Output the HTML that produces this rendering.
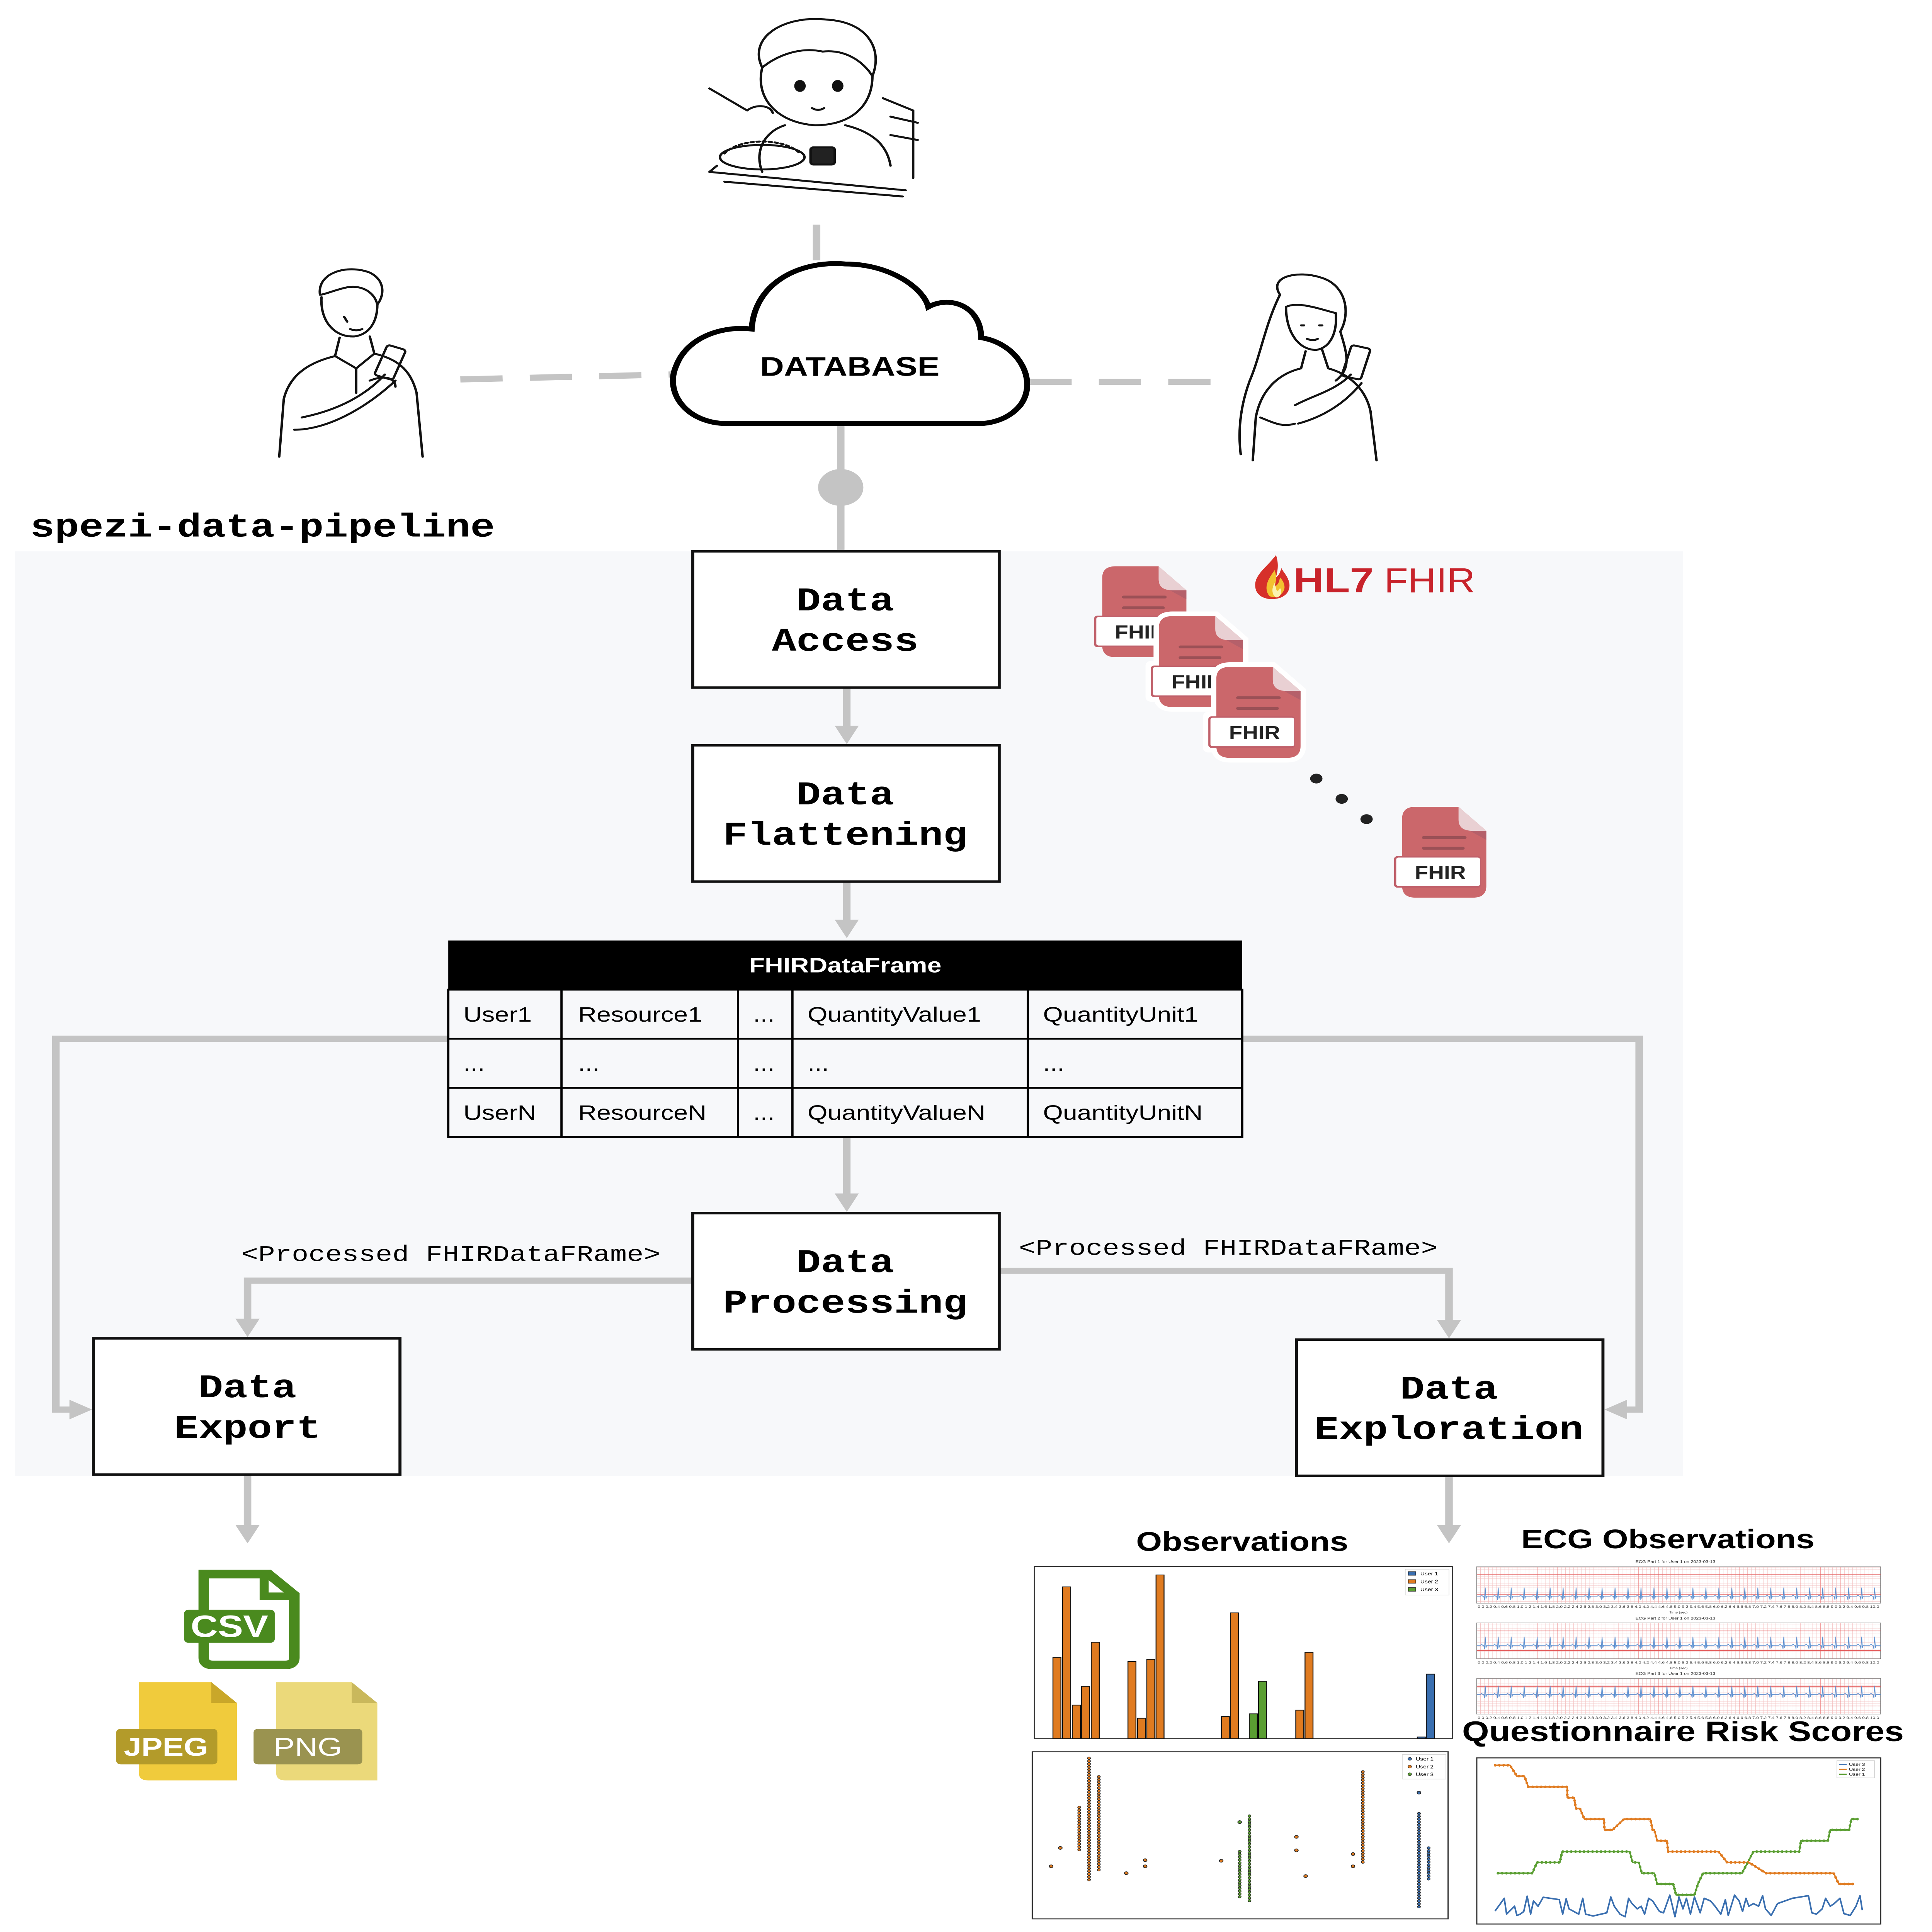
<!DOCTYPE html>
<html><head><meta charset="utf-8">
<style>
html,body{margin:0;padding:0;background:#fff;width:100%;height:100%;overflow:hidden;}
svg{display:block;width:100vw;height:100vh;position:absolute;left:0;top:0;}
.mono{font-family:"Liberation Mono",monospace;font-weight:bold;}
.sans{font-family:"Liberation Sans",sans-serif;}
</style></head>
<body>
<svg xmlns="http://www.w3.org/2000/svg" viewBox="0 0 1280 1573.5" preserveAspectRatio="none">
<defs>
  <pattern id="ecg" x="0" y="0" width="13.4" height="7.4" patternUnits="userSpaceOnUse">
    <rect width="13.4" height="7.4" fill="#fff"/>
    <path d="M2.68,0V7.4M5.36,0V7.4M8.04,0V7.4M10.72,0V7.4M0,1.85H13.4M0,3.7H13.4M0,5.55H13.4" stroke="#f4c2c2" stroke-width="0.25"/>
    <path d="M0,0V7.4" stroke="#e88" stroke-width="0.45"/>
  </pattern>
  <pattern id="beat" x="978.4" y="0" width="8.6" height="40" patternUnits="userSpaceOnUse">
    <path d="M0,20 L2.5,20 L3.2,19 L3.9,20 L4.6,20 L5.1,23 L5.6,13 L6.1,22 L6.6,20 L8.6,20" fill="none" stroke="#5b8fd0" stroke-width="0.45"/>
  </pattern>
</defs>

<rect width="1280" height="1573.5" fill="#fff"/>
<rect x="10" y="449" width="1105" height="753" fill="#f7f8fa"/>

<g stroke="#c4c4c4" stroke-width="5" fill="none">
  <line x1="541" y1="183" x2="541" y2="212"/>
  <line x1="305" y1="309" x2="445" y2="305" stroke-dasharray="28,18"/>
  <line x1="682" y1="311" x2="805" y2="311" stroke-dasharray="28,18"/>
  <line x1="557" y1="345" x2="557" y2="449"/>
  <line x1="561" y1="560" x2="561" y2="593"/>
  <line x1="561" y1="718" x2="561" y2="751"/>
  <line x1="561" y1="927" x2="561" y2="974"/>
  <polyline points="459,1043 164,1043 164,1076"/>
  <polyline points="662,1035 960,1035 960,1077"/>
  <polyline points="297,846 37,846 37,1148 48,1148"/>
  <polyline points="823,846 1086,846 1086,1148 1076,1148"/>
  <line x1="164" y1="1202" x2="164" y2="1244"/>
  <line x1="960" y1="1202" x2="960" y2="1244"/>
</g>
<g fill="#c4c4c4">
  <circle cx="557" cy="397" r="15"/>
  <polygon points="553,591 569,591 561,606"/>
  <polygon points="553,749 569,749 561,764"/>
  <polygon points="553,972 569,972 561,987"/>
  <polygon points="156,1074 172,1074 164,1089"/>
  <polygon points="952,1075 968,1075 960,1090"/>
  <polygon points="46,1140 46,1156 61,1148"/>
  <polygon points="1078,1140 1078,1156 1063,1148"/>
  <polygon points="156,1242 172,1242 164,1257"/>
  <polygon points="952,1242 968,1242 960,1257"/>
</g>

<path d="M482,345 C455,345 440,320 448,298 C455,275 478,265 498,268 C500,230 530,212 560,215 C590,215 612,235 615,250 C630,240 650,250 650,275 C675,280 688,310 676,330 C668,342 656,345 648,345 Z" fill="#fff" stroke="#000" stroke-width="4"/>
<text x="563" y="306" class="sans" font-size="22" font-weight="bold" text-anchor="middle">DATABASE</text>

<text x="20" y="437" class="mono" font-size="27">spezi-data-pipeline</text>

<g fill="#fff" stroke="#111" stroke-width="2">
  <rect x="459" y="449" width="203" height="111"/>
  <rect x="459" y="607" width="203" height="111"/>
  <rect x="459" y="988" width="203" height="111"/>
  <rect x="62" y="1090" width="203" height="111"/>
  <rect x="859" y="1091" width="203" height="111"/>
</g>
<g class="mono" font-size="27" text-anchor="middle">
  <text x="560" y="497">Data</text><text x="560" y="530">Access</text>
  <text x="560" y="655">Data</text><text x="560" y="688">Flattening</text>
  <text x="560" y="1036">Data</text><text x="560" y="1069">Processing</text>
  <text x="164" y="1138">Data</text><text x="164" y="1171">Export</text>
  <text x="960" y="1139">Data</text><text x="960" y="1172">Exploration</text>
</g>
<g font-family="Liberation Mono, monospace" font-size="18.5">
  <text x="160" y="1027">&lt;Processed FHIRDataFRame&gt;</text>
  <text x="675" y="1022">&lt;Processed FHIRDataFRame&gt;</text>
</g>

<rect x="297" y="766" width="526" height="40" fill="#000"/>
<text x="560" y="792" class="sans" font-size="17" font-weight="bold" fill="#fff" text-anchor="middle">FHIRDataFrame</text>
<g fill="none" stroke="#000" stroke-width="1.5">
  <rect x="297" y="806" width="526" height="120"/>
  <line x1="297" y1="846" x2="823" y2="846"/>
  <line x1="297" y1="886" x2="823" y2="886"/>
  <line x1="372" y1="806" x2="372" y2="926"/>
  <line x1="489" y1="806" x2="489" y2="926"/>
  <line x1="525" y1="806" x2="525" y2="926"/>
  <line x1="681" y1="806" x2="681" y2="926"/>
</g>
<g class="sans" font-size="17">
  <text x="307" y="832">User1</text><text x="383" y="832">Resource1</text><text x="499" y="832">...</text><text x="535" y="832">QuantityValue1</text><text x="691" y="832">QuantityUnit1</text>
  <text x="307" y="872">...</text><text x="383" y="872">...</text><text x="499" y="872">...</text><text x="535" y="872">...</text><text x="691" y="872">...</text>
  <text x="307" y="912">UserN</text><text x="383" y="912">ResourceN</text><text x="499" y="912">...</text><text x="535" y="912">QuantityValueN</text><text x="691" y="912">QuantityUnitN</text>
</g>

<g transform="translate(714.3,446.4) scale(0.1771,0.1898)">
  <g transform="translate(-427,-432)">
    <path d="M517,560 Q517,510 567,510 H728 L832,613 V850 Q832,900 782,900 H567 Q517,900 517,850 Z" fill="#cb676b"/>
    <path d="M728,510 V565 Q728,613 780,613 H832 Z" fill="#e9d0d3"/><polygon points="770,613 832,613 832,652" fill="#b5606a"/>
    <path d="M597,642H752M597,688H745" stroke="#9b5056" stroke-width="12" stroke-linecap="round"/>
    <rect x="487" y="722" width="325" height="135" rx="12" fill="#c0606a"/><rect x="495" y="728" width="313" height="122" rx="8" fill="#fff"/>
    <text x="660" y="820" class="sans" font-size="82" font-weight="bold" text-anchor="middle" fill="#222">FHIR</text>
  </g>
  <g transform="translate(-215,-218)">
    <path d="M517,560 Q517,510 567,510 H728 L832,613 V850 Q832,900 782,900 H567 Q517,900 517,850 Z" fill="#fff" stroke="#fff" stroke-width="40"/>
    <rect x="467" y="702" width="365" height="175" rx="20" fill="#fff"/>
    <path d="M517,560 Q517,510 567,510 H728 L832,613 V850 Q832,900 782,900 H567 Q517,900 517,850 Z" fill="#cb676b"/>
    <path d="M728,510 V565 Q728,613 780,613 H832 Z" fill="#e9d0d3"/><polygon points="770,613 832,613 832,652" fill="#b5606a"/>
    <path d="M597,642H752M597,688H745" stroke="#9b5056" stroke-width="12" stroke-linecap="round"/>
    <rect x="487" y="722" width="325" height="135" rx="12" fill="#c0606a"/><rect x="495" y="728" width="313" height="122" rx="8" fill="#fff"/>
    <text x="660" y="820" class="sans" font-size="82" font-weight="bold" text-anchor="middle" fill="#222">FHIR</text>
  </g>
  <g>
    <path d="M517,560 Q517,510 567,510 H728 L832,613 V850 Q832,900 782,900 H567 Q517,900 517,850 Z" fill="#fff" stroke="#fff" stroke-width="40"/>
    <rect x="467" y="702" width="365" height="175" rx="20" fill="#fff"/>
    <path d="M517,560 Q517,510 567,510 H728 L832,613 V850 Q832,900 782,900 H567 Q517,900 517,850 Z" fill="#cb676b"/>
    <path d="M728,510 V565 Q728,613 780,613 H832 Z" fill="#e9d0d3"/><polygon points="770,613 832,613 832,652" fill="#b5606a"/>
    <path d="M597,642H752M597,688H745" stroke="#9b5056" stroke-width="12" stroke-linecap="round"/>
    <rect x="487" y="722" width="325" height="135" rx="12" fill="#c0606a"/><rect x="495" y="728" width="313" height="122" rx="8" fill="#fff"/>
    <text x="660" y="820" class="sans" font-size="82" font-weight="bold" text-anchor="middle" fill="#222">FHIR</text>
  </g>
  <g transform="translate(695,600)">
    <path d="M517,560 Q517,510 567,510 H728 L832,613 V850 Q832,900 782,900 H567 Q517,900 517,850 Z" fill="#cb676b"/>
    <path d="M728,510 V565 Q728,613 780,613 H832 Z" fill="#e9d0d3"/><polygon points="770,613 832,613 832,652" fill="#b5606a"/>
    <path d="M597,642H752M597,688H745" stroke="#9b5056" stroke-width="12" stroke-linecap="round"/>
    <rect x="487" y="722" width="325" height="135" rx="12" fill="#c0606a"/><rect x="495" y="728" width="313" height="122" rx="8" fill="#fff"/>
    <text x="660" y="820" class="sans" font-size="82" font-weight="bold" text-anchor="middle" fill="#222">FHIR</text>
  </g>
  <ellipse cx="891" cy="989" rx="23" ry="21" fill="#222"/>
  <ellipse cx="986" cy="1076" rx="23" ry="21" fill="#222"/>
  <ellipse cx="1079" cy="1163" rx="23" ry="21" fill="#222"/>
  <path d="M740,30 C700,90 650,120 665,180 C675,210 705,222 735,218 C770,215 795,190 790,150 C785,120 765,100 760,85 C755,110 748,120 740,125 C748,95 750,60 740,30 Z" fill="#d6302a"/>
  <path d="M735,95 C705,140 695,175 715,205 C735,220 770,200 772,170 C773,150 762,135 755,125 C752,150 745,160 735,165 C742,140 742,115 735,95 Z" fill="#f2c230"/>
  <path d="M735,150 C722,175 725,200 740,212 C758,210 765,190 755,170 C750,185 745,185 742,180 Z" fill="#fbf3b0"/>
  <text x="805" y="190" class="sans" font-size="150" font-weight="bold" fill="#c8232b" textLength="300" lengthAdjust="spacingAndGlyphs">HL7</text>
  <text x="1145" y="190" class="sans" font-size="150" fill="#c8232b" textLength="340" lengthAdjust="spacingAndGlyphs">FHIR</text>
</g>

<g>
  <path d="M135,1282 H178 L195,1299 V1350 Q195,1356 189,1356 H141 Q135,1356 135,1350 Z" fill="#fff" stroke="#4a8a1e" stroke-width="7"/>
  <path d="M175,1282 V1300 H195" fill="none" stroke="#4a8a1e" stroke-width="6"/>
  <rect x="122" y="1311" width="60" height="27" rx="3" fill="#4a8a1e"/>
  <text x="152" y="1333" class="sans" font-size="25" font-weight="bold" fill="#fff" text-anchor="middle">CSV</text>
  <path d="M92,1370 H140 L157,1387 V1450 H98 Q92,1450 92,1444 Z" fill="#f0cb3c"/>
  <path d="M140,1370 V1387 H157 Z" fill="#c9a72a"/>
  <rect x="77" y="1408" width="67" height="29" rx="3" fill="#b39b2a"/>
  <text x="110" y="1430" class="sans" font-size="21" font-weight="bold" fill="#fff" text-anchor="middle">JPEG</text>
  <path d="M183,1370 H233 L250,1387 V1450 H189 Q183,1450 183,1444 Z" fill="#ebd97a"/>
  <path d="M233,1370 V1387 H250 Z" fill="#c9b85c"/>
  <rect x="168" y="1408" width="72" height="29" rx="3" fill="#9a9350"/>
  <text x="204" y="1430" class="sans" font-size="21" fill="#fff" text-anchor="middle">PNG</text>
</g>

<g class="sans" font-weight="bold" text-anchor="middle">
  <text x="823" y="1263" font-size="22">Observations</text>
  <text x="1105" y="1261" font-size="22">ECG Observations</text>
  <text x="1115" y="1418" font-size="23">Questionnaire Risk Scores</text>
</g>

<rect x="685.4" y="1275.8" width="277" height="140.2" fill="#fff" stroke="#333" stroke-width="0.8"/>
<g stroke="#111" stroke-width="0.6">
  <g fill="#e07b20">
    <rect x="697.6" y="1349.8" width="5.3" height="66.2"/>
    <rect x="704.0" y="1292.4" width="5.3" height="123.6"/>
    <rect x="710.5" y="1388.7" width="5.3" height="27.3"/>
    <rect x="716.6" y="1373.4" width="5.3" height="42.6"/>
    <rect x="723.0" y="1337.5" width="5.3" height="78.5"/>
    <rect x="747.3" y="1353.2" width="5.3" height="62.8"/>
    <rect x="753.7" y="1399.4" width="5.3" height="16.6"/>
    <rect x="759.8" y="1351.5" width="5.3" height="64.5"/>
    <rect x="765.9" y="1282.7" width="5.3" height="133.3"/>
    <rect x="809.2" y="1397.9" width="5.3" height="18.1"/>
    <rect x="815.2" y="1313.6" width="5.3" height="102.4"/>
    <rect x="858.5" y="1392.8" width="5.3" height="23.2"/>
    <rect x="864.6" y="1345.7" width="5.3" height="70.3"/>
  </g>
  <g fill="#5a9e32">
    <rect x="827.7" y="1395.8" width="5.3" height="20.2"/>
    <rect x="833.8" y="1369.3" width="5.3" height="46.7"/>
  </g>
  <g fill="#3a6fb0">
    <rect x="939" y="1414.7" width="5.3" height="1.3"/>
    <rect x="945" y="1363.5" width="5.3" height="52.5"/>
  </g>
</g>
<rect x="931" y="1278" width="29" height="21" fill="#fff" stroke="#ccc" stroke-width="0.4"/>
<rect x="933" y="1280" width="5" height="3" fill="#3a6fb0" stroke="#000" stroke-width="0.3"/>
<rect x="933" y="1286.5" width="5" height="3" fill="#e07b20" stroke="#000" stroke-width="0.3"/>
<rect x="933" y="1293" width="5" height="3" fill="#5a9e32" stroke="#000" stroke-width="0.3"/>
<g class="sans" font-size="4"><text x="941" y="1283">User 1</text><text x="941" y="1289.5">User 2</text><text x="941" y="1296">User 3</text></g>

<rect x="683.9" y="1426.7" width="275.5" height="136.1" fill="#fff" stroke="#333" stroke-width="0.8"/>
<g fill="none" stroke-linecap="round" stroke-dasharray="0 2.3">
  <g stroke="#222" stroke-width="2.4">
    <path d="M721.5,1432V1532M728,1447V1523.5M715,1472V1507M902.9,1443V1517M827.8,1479V1548M821.3,1508V1545M940.1,1477V1555M946.5,1505V1531"/>
  </g>
  <g stroke="#e07b20" stroke-width="1.6">
    <path d="M721.5,1432V1532M728,1447V1523.5M715,1472V1507M902.9,1443V1517"/>
  </g>
  <g stroke="#5a9e32" stroke-width="1.6"><path d="M827.8,1479V1548M821.3,1508V1545"/></g>
  <g stroke="#3a6fb0" stroke-width="1.6"><path d="M940.1,1477V1555M946.5,1505V1531"/></g>
</g>
<g stroke="#222" stroke-width="0.5" fill="#e07b20">
  <circle cx="696.4" cy="1520" r="1.2"/><circle cx="702.5" cy="1505" r="1.2"/><circle cx="746.2" cy="1525.6" r="1.2"/>
  <circle cx="758.7" cy="1515" r="1.2"/><circle cx="758.7" cy="1520" r="1.2"/><circle cx="809.1" cy="1515.5" r="1.2"/>
  <circle cx="858.9" cy="1496" r="1.2"/><circle cx="858.9" cy="1507" r="1.2"/><circle cx="865" cy="1528" r="1.2"/>
  <circle cx="896.4" cy="1510" r="1.2"/><circle cx="896.4" cy="1520" r="1.2"/>
  <circle cx="821.3" cy="1484" r="1.2" fill="#5a9e32"/><circle cx="940.1" cy="1460" r="1.2" fill="#3a6fb0"/>
</g>
<rect x="929" y="1429" width="29" height="20" fill="#fff" stroke="#ccc" stroke-width="0.4"/>
<g stroke="#222" stroke-width="0.3"><circle cx="934" cy="1432.5" r="1.2" fill="#3a6fb0"/><circle cx="934" cy="1438.8" r="1.2" fill="#e07b20"/><circle cx="934" cy="1445" r="1.2" fill="#5a9e32"/></g>
<g class="sans" font-size="4"><text x="938" y="1434">User 1</text><text x="938" y="1440.3">User 2</text><text x="938" y="1446.5">User 3</text></g>

<g>
  <rect x="978.4" y="1276" width="267.6" height="29.7" fill="url(#ecg)" stroke="#666" stroke-width="0.4"/>
  <rect x="978.4" y="1321.8" width="267.6" height="29.2" fill="url(#ecg)" stroke="#666" stroke-width="0.4"/>
  <rect x="978.4" y="1367" width="267.6" height="29" fill="url(#ecg)" stroke="#666" stroke-width="0.4"/>
  <g stroke="#e35555" stroke-width="0.45">
    <path d="M978.4,1282.5H1246M978.4,1298.8H1246M978.4,1328.2H1246M978.4,1344.3H1246M978.4,1373.4H1246M978.4,1389.5H1246"/>
  </g>
  <rect x="978.4" y="1270.7" width="267.6" height="40" fill="url(#beat)"/>
  <rect x="978.4" y="1316.2" width="267.6" height="40" fill="url(#beat)"/>
  <rect x="978.4" y="1361.5" width="267.6" height="40" fill="url(#beat)"/>
  <rect x="978.4" y="1305.9" width="267.6" height="15.7" fill="#fff"/>
  <rect x="978.4" y="1351.2" width="267.6" height="15.6" fill="#fff"/>
  <rect x="978.4" y="1396.2" width="267.6" height="5.6" fill="#fff"/>
  <rect x="978.4" y="1270.7" width="267.6" height="5.2" fill="#fff"/>
  <g class="sans" font-size="3.2" text-anchor="middle" fill="#333">
    <text x="1110" y="1273">ECG Part 1 for User 1 on 2023-03-13</text>
    <text x="1110" y="1319">ECG Part 2 for User 1 on 2023-03-13</text>
    <text x="1110" y="1364">ECG Part 3 for User 1 on 2023-03-13</text>
    <text x="1112" y="1309.5" font-size="2.6" textLength="266" lengthAdjust="spacingAndGlyphs">0.0 0.2 0.4 0.6 0.8 1.0 1.2 1.4 1.6 1.8 2.0 2.2 2.4 2.6 2.8 3.0 3.2 3.4 3.6 3.8 4.0 4.2 4.4 4.6 4.8 5.0 5.2 5.4 5.6 5.8 6.0 6.2 6.4 6.6 6.8 7.0 7.2 7.4 7.6 7.8 8.0 8.2 8.4 8.6 8.8 9.0 9.2 9.4 9.6 9.8 10.0</text>
    <text x="1112" y="1355" font-size="2.6" textLength="266" lengthAdjust="spacingAndGlyphs">0.0 0.2 0.4 0.6 0.8 1.0 1.2 1.4 1.6 1.8 2.0 2.2 2.4 2.6 2.8 3.0 3.2 3.4 3.6 3.8 4.0 4.2 4.4 4.6 4.8 5.0 5.2 5.4 5.6 5.8 6.0 6.2 6.4 6.6 6.8 7.0 7.2 7.4 7.6 7.8 8.0 8.2 8.4 8.6 8.8 9.0 9.2 9.4 9.6 9.8 10.0</text>
    <text x="1112" y="1400" font-size="2.6" textLength="266" lengthAdjust="spacingAndGlyphs">0.0 0.2 0.4 0.6 0.8 1.0 1.2 1.4 1.6 1.8 2.0 2.2 2.4 2.6 2.8 3.0 3.2 3.4 3.6 3.8 4.0 4.2 4.4 4.6 4.8 5.0 5.2 5.4 5.6 5.8 6.0 6.2 6.4 6.6 6.8 7.0 7.2 7.4 7.6 7.8 8.0 8.2 8.4 8.6 8.8 9.0 9.2 9.4 9.6 9.8 10.0</text>
    <text x="1112" y="1314" font-size="2.6">Time (sec)</text>
    <text x="1112" y="1359.5" font-size="2.6">Time (sec)</text>
  </g>
</g>

<rect x="978.4" y="1431.7" width="267.6" height="135.3" fill="#fff" stroke="#333" stroke-width="0.8"/>
<g transform="translate(678.6,1230) scale(0.3795,0.215)" fill="none" stroke-linejoin="round">
  <polyline vector-effect="non-scaling-stroke" stroke="#e07b20" stroke-width="4" points="822,966 848,966 860,1007 873,1007 880,1048 948,1048 948,1089 960,1089 963,1130 970,1130 978,1170 1012,1170 1013,1211 1027,1211 1047,1170 1093,1170 1097,1211 1100,1211 1105,1252 1122,1252 1124,1293 1212,1293 1227,1334 1265,1334 1295,1375 1413,1375 1422,1416 1448,1416"/>
  <polyline vector-effect="non-scaling-stroke" stroke="#5a9e32" stroke-width="4" points="827,1375 887,1375 895,1334 935,1334 939,1293 1057,1293 1062,1334 1073,1334 1078,1375 1100,1375 1105,1416 1133,1416 1138,1457 1170,1457 1176,1416 1185,1375 1253,1375 1273,1293 1353,1293 1356,1252 1403,1252 1407,1211 1440,1211 1444,1170 1455,1170"/>
  <polyline vector-effect="non-scaling-stroke" stroke="#3a6fb0" stroke-width="4" points="822,1518 838,1470 842,1530 856,1500 860,1535 866,1530 872,1520 878,1462 884,1530 889,1480 897,1500 906,1466 934,1475 940,1530 946,1472 951,1510 968,1530 975,1470 980,1530 993,1537 1017,1525 1024,1465 1030,1500 1040,1530 1049,1540 1055,1470 1061,1490 1070,1510 1077,1500 1083,1530 1090,1470 1097,1480 1109,1520 1116,1525 1127,1458 1136,1540 1143,1465 1150,1510 1156,1470 1163,1530 1170,1465 1180,1525 1187,1470 1198,1480 1206,1500 1216,1530 1224,1475 1229,1535 1240,1458 1248,1480 1254,1520 1260,1470 1265,1500 1273,1490 1282,1500 1289,1460 1294,1510 1304,1535 1315,1490 1341,1470 1369,1460 1375,1525 1383,1530 1393,1510 1399,1470 1407,1500 1414,1490 1424,1470 1431,1528 1442,1535 1452,1500 1459,1460 1463,1515"/>
</g>
<g transform="translate(678.6,1230) scale(0.3795,0.215)" fill="none" stroke-linecap="round" stroke-dasharray="0 11">
  <polyline vector-effect="non-scaling-stroke" stroke="#e07b20" stroke-width="7" points="822,966 848,966 860,1007 873,1007 880,1048 948,1048 948,1089 960,1089 963,1130 970,1130 978,1170 1012,1170 1013,1211 1027,1211 1047,1170 1093,1170 1097,1211 1100,1211 1105,1252 1122,1252 1124,1293 1212,1293 1227,1334 1265,1334 1295,1375 1413,1375 1422,1416 1448,1416"/>
  <polyline vector-effect="non-scaling-stroke" stroke="#5a9e32" stroke-width="7" points="827,1375 887,1375 895,1334 935,1334 939,1293 1057,1293 1062,1334 1073,1334 1078,1375 1100,1375 1105,1416 1133,1416 1138,1457 1170,1457 1176,1416 1185,1375 1253,1375 1273,1293 1353,1293 1356,1252 1403,1252 1407,1211 1440,1211 1444,1170 1455,1170"/>
</g>
<rect x="1217" y="1434" width="25" height="14" fill="#fff" stroke="#ccc" stroke-width="0.4"/>
<g stroke-width="0.8"><line x1="1218.5" y1="1437" x2="1223.5" y2="1437" stroke="#3a6fb0"/><line x1="1218.5" y1="1441" x2="1223.5" y2="1441" stroke="#e07b20"/><line x1="1218.5" y1="1445" x2="1223.5" y2="1445" stroke="#5a9e32"/></g>
<g class="sans" font-size="3.6"><text x="1225" y="1438.2">User 3</text><text x="1225" y="1442.2">User 2</text><text x="1225" y="1446.2">User 1</text></g>

<g fill="none" stroke="#111" stroke-width="1.6" stroke-linecap="round" stroke-linejoin="round">
  <path d="M505,55 C495,30 520,12 548,16 C575,18 585,40 578,62 C572,50 560,40 545,42 C530,38 515,45 505,55 Z" fill="#fff"/>
  <path d="M505,55 C500,80 515,100 540,102 C565,102 578,85 578,62"/>
  <ellipse cx="530" cy="70" rx="3" ry="4" fill="#111"/><ellipse cx="555" cy="70" rx="3" ry="4" fill="#111"/>
  <path d="M538,88 Q542,91 546,88"/>
  <path d="M520,102 C505,108 500,125 505,140 M560,102 C580,108 588,120 590,135"/>
  <path d="M470,72 L495,90 M495,90 C500,85 510,85 512,92"/>
  <path d="M585,80 L605,90 L605,145 M590,95 L608,100 M590,110 L608,114"/>
  <ellipse cx="505" cy="128" rx="28" ry="10"/>
  <path d="M480,125 C490,112 520,112 530,125" stroke-dasharray="2,2"/>
  <rect x="537" y="120" width="16" height="14" rx="2" fill="#222"/>
  <path d="M470,140 L600,155 M480,148 L598,160 M475,135 L470,140"/>
  <path d="M212,240 C210,222 230,215 245,222 C255,228 255,240 250,248 C248,238 240,232 230,234 C222,236 215,240 212,240 Z" fill="#fff"/>
  <path d="M213,242 C212,262 222,275 235,274 C246,272 250,260 250,248"/>
  <path d="M228,258 L230,262 M232,268 Q236,270 240,268"/>
  <path d="M225,275 L222,290 C205,295 192,305 188,325 L185,372 M245,274 L248,288 C262,292 272,300 276,320 L280,372"/>
  <path d="M222,290 L236,300 L248,288 M236,300 L236,320"/>
  <path d="M200,340 C220,335 240,325 255,305 M195,350 C215,350 240,335 262,310"/>
  <rect x="252" y="282" width="13" height="26" rx="2" transform="rotate(20 258 295)"/>
  <path d="M245,310 C255,305 262,308 262,315"/>
  <path d="M848,240 C840,225 860,220 875,226 C892,232 895,255 888,270 C893,290 895,300 885,310 M848,240 C838,265 835,290 828,310 C822,330 820,350 822,370"/>
  <path d="M852,250 C852,270 860,285 872,285 C882,283 886,270 885,255 C875,252 860,245 852,250 Z"/>
  <path d="M862,265 L864,265 M874,265 L876,265 M866,276 Q870,278 873,276"/>
  <path d="M865,286 L862,300 C845,305 835,320 832,340 L830,375 M876,285 L880,300 C895,305 905,318 908,335 L912,375"/>
  <rect x="892" y="282" width="13" height="26" rx="2" transform="rotate(15 898 295)"/>
  <path d="M858,330 C870,322 885,318 895,305 M860,345 C875,340 890,330 902,312"/>
  <path d="M835,340 C845,345 850,348 858,345"/>
</g>
</svg>
</body></html>
